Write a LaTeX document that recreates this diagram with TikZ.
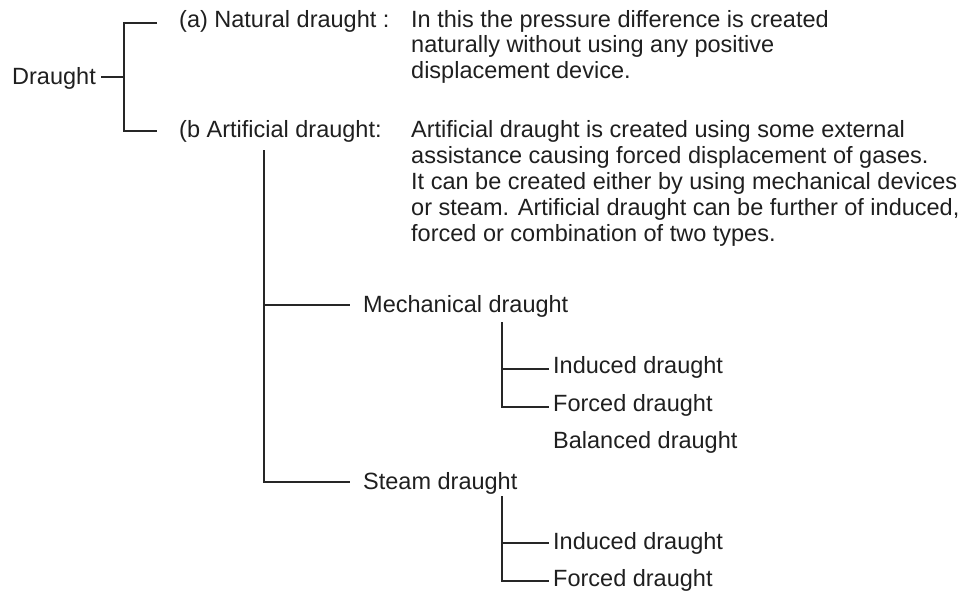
\documentclass[tikz,border=0pt]{standalone}
\usepackage{fontspec}
\setmainfont{Liberation Sans}
\begin{document}
\begin{tikzpicture}[x=1pt,y=-1pt,
  lbl/.style={inner sep=0pt, anchor=base west, text=black!88, font=\fontsize{23.5}{26}\selectfont},
  conn/.style={line width=1.6pt, draw=black!85}]
\useasboundingbox (0,0) rectangle (963,590);
% labels
\node[lbl] (draught) at (12,84) {Draught};
\node[lbl] (na) at (179,27) {(a) Natural draught :};
\node[lbl] (nat1) at (411,27) {In this the pressure difference is created};
\node[lbl] (nat2) at (411,52.5) {naturally without using any positive};
\node[lbl] (nat3) at (411,78) {displacement device.};
\node[lbl] (nb) at (179,137) {(b Artificial draught:};
\node[lbl] (art1) at (411,137) {Artificial draught is created using some external};
\node[lbl] (art2) at (411,163) {assistance causing forced displacement of gases.};
\node[lbl] (art3) at (411,189) {It can be created either by using mechanical devices};
\node[lbl] (art4) at (411,215) {or steam. Artificial draught can be further of induced,};
\node[lbl] (art5) at (411,241) {forced or combination of two types.};
\node[lbl] (mech) at (363,312) {Mechanical draught};
\node[lbl] (mind) at (553,373) {Induced draught};
\node[lbl] (mfor) at (553,411) {Forced draught};
\node[lbl] (mbal) at (553,448) {Balanced draught};
\node[lbl] (steam) at (363,489) {Steam draught};
\node[lbl] (sind) at (553,549) {Induced draught};
\node[lbl] (sfor) at (553,586) {Forced draught};
% junction coordinates
\coordinate (j0) at (124,77);
\coordinate (jt) at (124,23);
\coordinate (jb) at (124,131);
\coordinate (v1t) at (264,150);
\coordinate (v1m) at (264,305);
\coordinate (v1b) at (264,482);
\coordinate (v2t) at (502,322);
\coordinate (v2m) at (502,369);
\coordinate (v2b) at (502,407);
\coordinate (v3t) at (502,496);
\coordinate (v3m) at (502,543);
\coordinate (v3b) at (502,581);
% connectors
\draw[conn] ([xshift=5pt]draught.east |- j0) -- (j0);
\draw[conn] ([xshift=-22pt]na.west |- jt) -- (jt) -- (jb) -- ([xshift=-22pt]nb.west |- jb);
\draw[conn] (v1t) -- (v1b) -- ([xshift=-13pt]steam.west |- v1b);
\draw[conn] (v1m) -- ([xshift=-13pt]mech.west |- v1m);
\draw[conn] (v2t) -- (v2b) -- ([xshift=-4pt]mfor.west |- v2b);
\draw[conn] (v2m) -- ([xshift=-4pt]mind.west |- v2m);
\draw[conn] (v3t) -- (v3b) -- ([xshift=-4pt]sfor.west |- v3b);
\draw[conn] (v3m) -- ([xshift=-4pt]sind.west |- v3m);
\end{tikzpicture}
\end{document}
